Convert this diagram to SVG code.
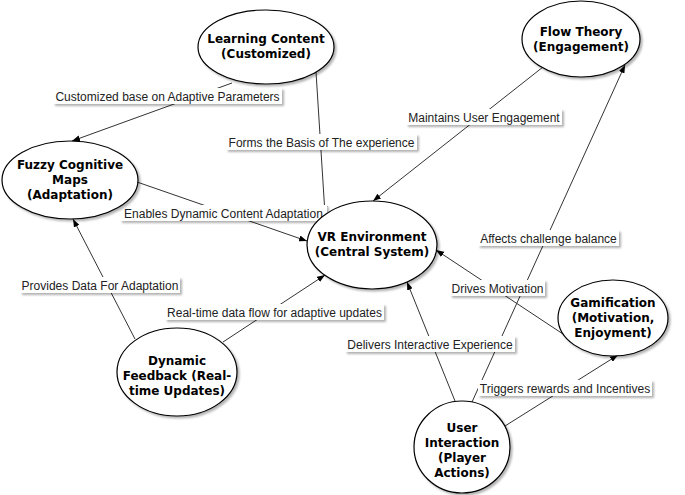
<svg xmlns="http://www.w3.org/2000/svg" width="685" height="495" viewBox="0 0 685 495">
<defs>
<filter id="sh" x="-10%" y="-10%" width="130%" height="140%">
<feDropShadow dx="2" dy="2" stdDeviation="1.2" flood-color="#000" flood-opacity="0.3"/>
</filter>
<marker id="ah" markerWidth="8" markerHeight="6" refX="8" refY="3" orient="auto" markerUnits="userSpaceOnUse">
<path d="M0,0 L8,3 L0,6 z" fill="#000"/>
</marker>
<style>
.node ellipse{fill:#fff;stroke:#000;stroke-width:1.2;filter:url(#sh)}
.node text{font-family:"DejaVu Sans",Verdana,sans-serif;font-weight:bold;font-size:12px;text-anchor:middle;fill:#000}
.edges line{stroke:#333;stroke-width:1;marker-end:url(#ah)}
.lbl rect{fill:#fff;filter:url(#sh)}
.lbl text{font-family:"Liberation Sans",Arial,sans-serif;font-size:12px;text-anchor:middle;fill:#222}
</style>
</defs>
<rect width="685" height="495" fill="#fff"/>
<g id="connectors" class="edges">
<line x1="232" y1="83" x2="72" y2="141"/>
<line x1="316" y1="72" x2="325" y2="214"/>
<line x1="137" y1="182" x2="307" y2="241"/>
<line x1="543" y1="67" x2="373" y2="201"/>
<line x1="135" y1="339" x2="73" y2="219"/>
<line x1="223" y1="342" x2="325" y2="275"/>
<line x1="566" y1="336" x2="436" y2="250"/>
<line x1="455" y1="401" x2="407" y2="282"/>
<line x1="472" y1="402" x2="625" y2="65"/>
<line x1="505" y1="426" x2="618" y2="355"/>
</g>
<g id="labels">
<g class="lbl"><rect x="53" y="88" width="229" height="16"/><text x="167.5" y="100.5">Customized base on Adaptive Parameters</text></g>
<g class="lbl"><rect x="226" y="134" width="191" height="16"/><text x="321.5" y="146.5">Forms the Basis of The experience</text></g>
<g class="lbl"><rect x="120" y="205" width="207" height="16"/><text x="223.5" y="217.5">Enables Dynamic Content Adaptation</text></g>
<g class="lbl"><rect x="20" y="277" width="160" height="16"/><text x="100" y="289.5">Provides Data For Adaptation</text></g>
<g class="lbl"><rect x="165" y="304" width="219" height="16"/><text x="274.5" y="316.5">Real-time data flow for adaptive updates</text></g>
<g class="lbl"><rect x="406" y="109" width="156" height="16"/><text x="484" y="121.5">Maintains User Engagement</text></g>
<g class="lbl"><rect x="478" y="230" width="141" height="16"/><text x="548.5" y="242.5">Affects challenge balance</text></g>
<g class="lbl"><rect x="450" y="280" width="95" height="16"/><text x="497.5" y="292.5">Drives Motivation</text></g>
<g class="lbl"><rect x="345" y="336" width="170" height="16"/><text x="430" y="348.5">Delivers Interactive Experience</text></g>
<g class="lbl"><rect x="478" y="380" width="174" height="16"/><text x="565" y="392.5">Triggers rewards and Incentives</text></g>
</g>
<g id="learning-content" class="node"><ellipse cx="266" cy="47" rx="68" ry="37"/><text x="266" y="43">Learning Content</text><text x="266" y="58">(Customized)</text></g>
<g id="flow-theory" class="node"><ellipse cx="581" cy="39" rx="59" ry="38"/><text x="581" y="36">Flow Theory</text><text x="581" y="51">(Engagement)</text></g>
<g id="fuzzy-cognitive-maps" class="node"><ellipse cx="70" cy="180" rx="68" ry="39"/><text x="70" y="169">Fuzzy Cognitive</text><text x="70" y="184">Maps</text><text x="70" y="199">(Adaptation)</text></g>
<g id="vr-environment" class="node"><ellipse cx="372" cy="245" rx="65" ry="44"/><text x="372" y="241">VR Environment</text><text x="372" y="256">(Central System)</text></g>
<g id="dynamic-feedback" class="node"><ellipse cx="177" cy="372" rx="60" ry="44"/><text x="177" y="365">Dynamic</text><text x="177" y="380">Feedback (Real-</text><text x="177" y="395">time Updates)</text></g>
<g id="gamification" class="node"><ellipse cx="613" cy="318" rx="55" ry="38"/><text x="613" y="307">Gamification</text><text x="613" y="322">(Motivation,</text><text x="613" y="337">Enjoyment)</text></g>
<g id="user-interaction" class="node"><ellipse cx="462" cy="447" rx="48" ry="46"/><text x="462" y="432">User</text><text x="462" y="447">Interaction</text><text x="462" y="462">(Player</text><text x="462" y="477">Actions)</text></g>
</svg>
